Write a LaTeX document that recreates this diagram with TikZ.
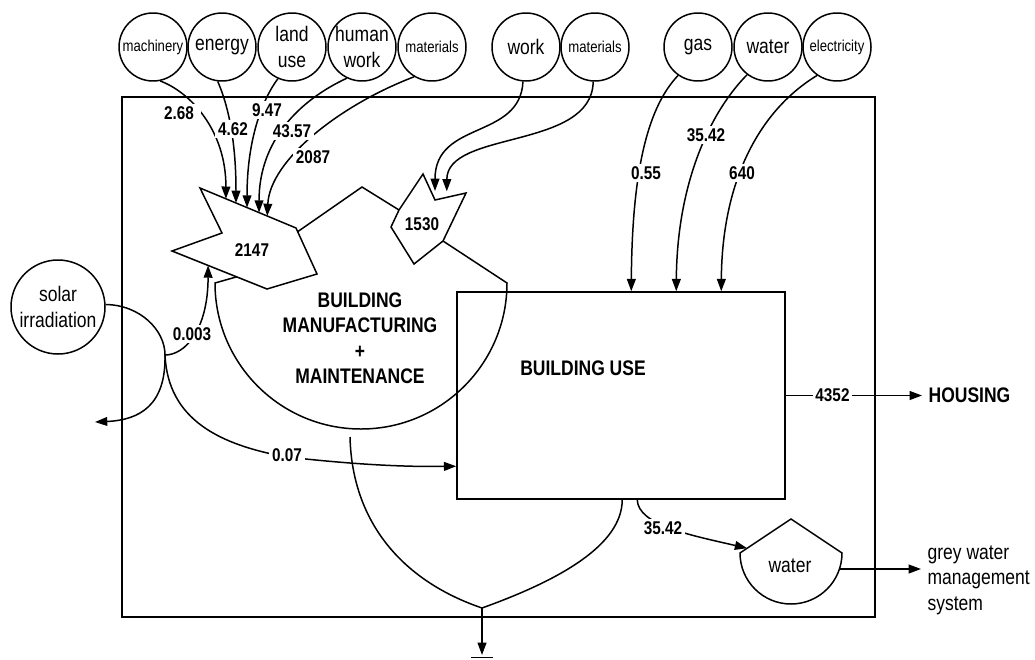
\documentclass[tikz,border=0pt]{standalone}
\usepackage{fontspec}
\setmainfont{Liberation Sans}[FakeStretch=0.83]
\usetikzlibrary{arrows.meta, calc}

\begin{document}
\begin{tikzpicture}[
    x=0.2mm, y=-0.2mm,
    line width=0.85pt,
    % Styles
    src/.style={circle, draw, minimum size=1.36cm, inner sep=0pt, align=center, font=\fontsize{12}{14.5}\selectfont},
    srcsm/.style={src, font=\fontsize{9}{11}\selectfont},
    val/.style={fill=white, inner sep=1.5pt, font=\fontsize{10.5}{12}\selectfont\bfseries},
    ttl/.style={align=center, font=\fontsize{12}{14.5}\selectfont\bfseries},
    txt/.style={align=left, font=\fontsize{12}{14.5}\selectfont},
    flow/.style={-{Triangle[length=7pt, width=5pt]}}
]
    \useasboundingbox (0,0) rectangle (1035,659);

    % --- System boundary ---
    \draw[line width=1pt] (122,97) rectangle (875,617);

    % --- Sources ---
    \node[srcsm] (mach) at (153,47) {machinery};
    \node[src] (enrg) at (222,47) {energy};
    \node[src] (land) at (292,47) {land\\use};
    \node[src] (hwork) at (362,47) {human\\work};
    \node[srcsm] (mat) at (432,47) {materials};
    \node[src] (work) at (526,47) {work};
    \node[srcsm] (mat2) at (595,47) {materials};
    \node[src] (gas) at (698,47) {gas};
    \node[src] (wat) at (768,47) {water};
    \node[srcsm] (elec) at (837,47) {electricity};
    \node[src, minimum size=1.88cm] (sun) at (58,307) {solar\\irradiation};

    % --- Storage 2147 ---
    \coordinate (pa) at (200,188);
    \coordinate (pb) at (296,228);
    \coordinate (pc) at (317,274);
    \coordinate (pd) at (267,289);
    \coordinate (pe) at (172,251);
    \coordinate (pf) at (222,233);
    \draw[line join=miter] (pa) -- (pb) -- (pc) -- (pd) -- (pe) -- (pf) -- cycle;
    \node[val] (s2147) at (252,250) {2147};

    % --- Storage 1530 ---
    \coordinate (qa) at (423,174);
    \coordinate (qb) at (435,200);
    \coordinate (qc) at (466,193);
    \coordinate (qd) at (443,241);
    \coordinate (qe) at (414,264);
    \coordinate (qf) at (391,227);
    \coordinate (qg) at (399,210);
    \draw[line join=miter] (qa) -- (qb) -- (qc) -- (qd) -- (qe) -- (qf) -- (qg) -- cycle;
    \node[val] (s1530) at (422,224) {1530};

    % --- Building manufacturing + maintenance ---
    \draw ($(pb)!0.08!(pc)$) -- (362,187) -- (qg);
    \draw ($(pe)!0.68!(pd)$) -- (215,283) arc[start angle=180, end angle=0, radius=146] -- (qd);
    \node[ttl] (bmtxt) at (360,338) {BUILDING\\MANUFACTURING\\+\\MAINTENANCE};

    % --- Building use ---
    \node[draw, minimum width=6.56cm, minimum height=4.14cm] (bu) at (621,395.5) {};
    \node[ttl] (butxt) at (583,368) {BUILDING USE};

    % --- Water tank ---
    \coordinate (wl) at (740,553);
    \coordinate (wt) at (791,519);
    \coordinate (wout) at (840,569);
    \draw[line join=miter] (wl) -- (wt) -- (842,553) arc[start angle=0, end angle=180, radius=51] -- cycle;
    \node[txt] (wtank) at (790,566) {water};

    % --- Inputs to 2147 ---
    \draw[flow] (mach.-78) .. controls (190,92) and (226,130) .. ($(pa)!0.27!(pb)$);
    \draw[flow] (enrg.-97) .. controls (228,105) and (236,140) .. ($(pa)!0.375!(pb)$);
    \draw[flow] (land.-114) .. controls (262,100) and (247,140) .. ($(pa)!0.49!(pb)$);
    \draw[flow] (hwork.-116) .. controls (300,100) and (259,140) .. ($(pa)!0.615!(pb)$);
    \draw[flow] (mat.-121) .. controls (340,105) and (270,160) .. ($(pa)!0.70!(pb)$);

    % --- Inputs to 1530 ---
    \draw[flow] (work.-95) .. controls (520,140) and (435,120) .. ($(qb)+(0,-9)$);
    \draw[flow] (mat2.-93) .. controls (592,150) and (447,130) .. ($(qb)!0.38!(qc)+(0,-6)$);

    % --- Inputs to building use ---
    \coordinate (inGas) at ($(bu.north west)+(175,0)$);
    \coordinate (inWat) at ($(bu.north west)+(220,0)$);
    \coordinate (inElec) at ($(bu.north west)+(265,0)$);
    \draw[flow] (gas.-125) .. controls (645,110) and (632,180) .. (inGas);
    \draw[flow] (wat.-127) .. controls (712,110) and (677,180) .. (inWat);
    \draw[flow] (elec.-125) .. controls (760,110) and (722,180) .. (inElec);

    % --- Solar irradiation ---
    \coordinate (sj) at (165,355);
    \coordinate (solout) at (95,422);
    \coordinate (in07) at ($(bu.north west)+(0,175)$);
    \draw (sun.3) .. controls (140,305) and (165,330) .. (sj);
    \draw[flow] (sj) .. controls (185,355) and (208,330) .. ($(pe)!0.38!(pd)$);
    \draw[flow] (sj) .. controls (166,405) and (140,420) .. (solout);
    \draw[flow] (sj) .. controls (168,420) and (220,445) .. (287,457)
        .. controls (350,464) and (400,467) .. (in07);

    % --- Outputs ---
    \coordinate (bmout) at (350,437);
    \coordinate (sk) at (482,608);
    \coordinate (skend) at (482,655);
    \draw (bmout) .. controls (352,520) and (400,580) .. (sk);
    \draw ($(bu.south west)+(166,0)$) .. controls (622,545) and (560,580) .. (sk);
    \draw[flow] (sk) -- (skend);
    \draw (471,657.5) -- (493,657.5);

    \draw[flow] ($(bu.south west)+(181,0)$) .. controls (638,525) and (690,535) .. ($(wl)!0.14!(wt)$);

    \node[ttl, anchor=west] (house) at (922,395.5) {HOUSING};
    \draw[flow] (bu.east) -- (house.west) node[val, pos=0.343] (v4352) {4352};

    \node[txt, anchor=west] (grey) at (921,580) {grey water\\management\\system};
    \draw[flow] (wout) -- (wout -| grey.west);

    % Flow values
    \node[val, inner xsep=4pt] (v268) at (179,113) {2.68};
    \node[val] (v462) at (233,129) {4.62};
    \node[val] (v947) at (267,110) {9.47};
    \node[val] (v4357) at (292,131) {43.57};
    \node[val] (v2087) at (313,157) {2087};
    \node[val] (v055) at (646,173) {0.55};
    \node[val] (v3542a) at (706,135) {35.42};
    \node[val] (v640) at (742,173) {640};
    \node[val] (v0003) at (192,334) {0.003};
    \node[val] (v007) at (287,455) {0.07};
    \node[val] (v3542b) at (663,528) {35.42};

\end{tikzpicture}
\end{document}
